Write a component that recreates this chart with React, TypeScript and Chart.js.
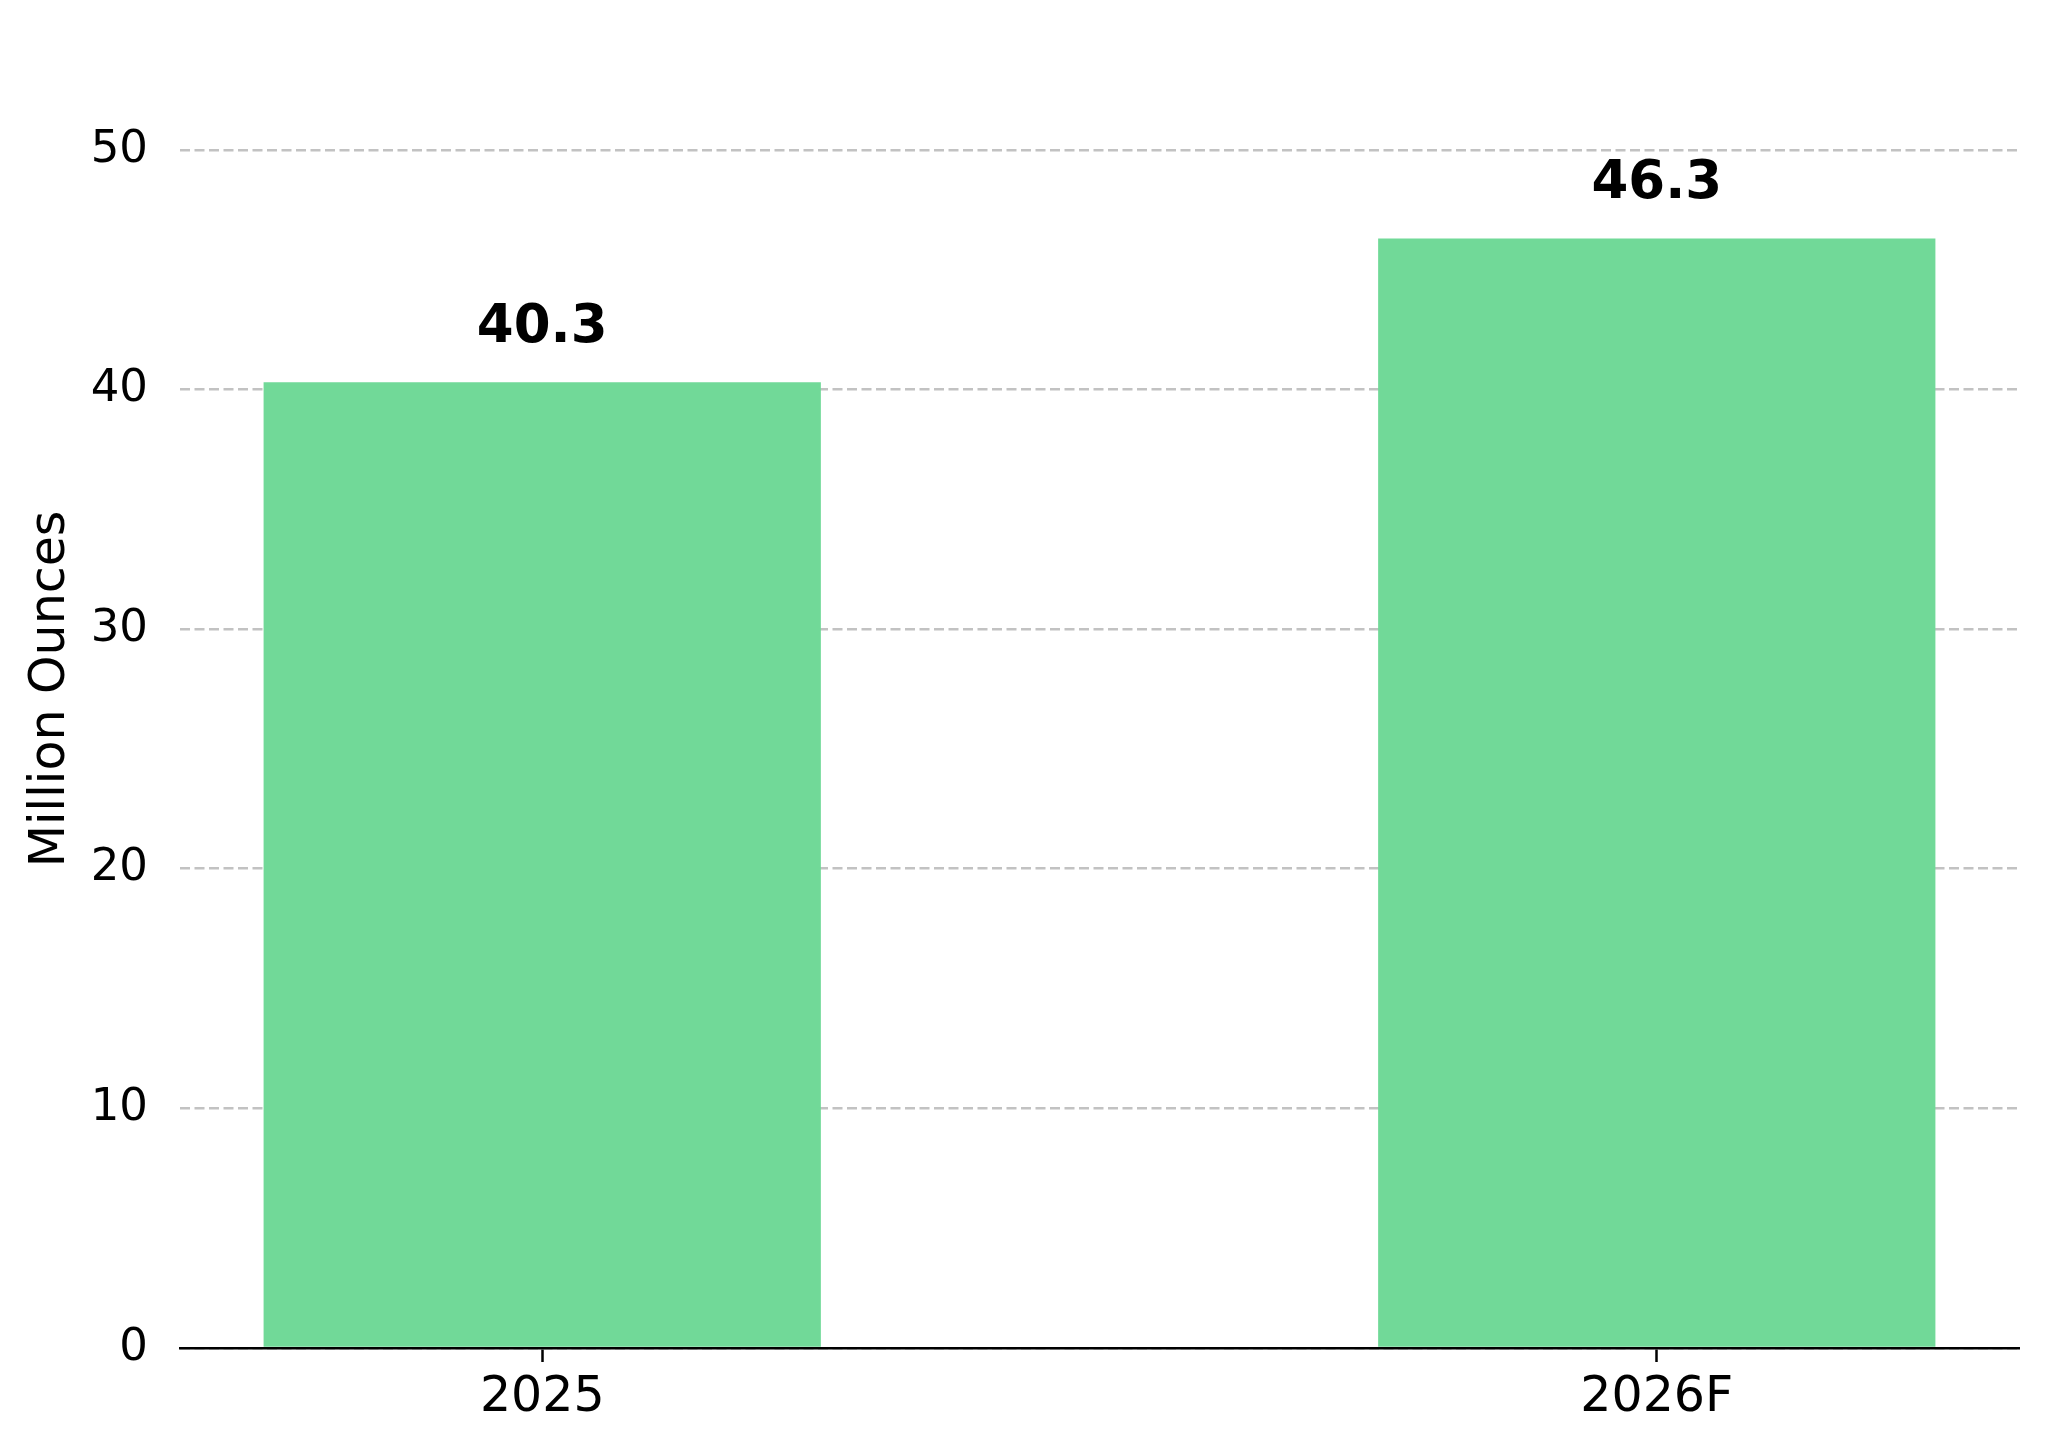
import React, { useEffect, useRef } from 'react';
import { Chart, registerables } from 'chart.js';

Chart.register(...registerables);

const categories = ['2025', '2026F'];
const values = [40.3, 46.3];
const yTicks = [0, 10, 20, 30, 40, 50];

const FONT = "'DejaVu Sans', sans-serif";
const BAR_COLOR = '#71d998';

// rótulos de valor em negrito acima de cada barra
const valueLabels = {
  id: 'valueLabels',
  afterDatasetsDraw(chart: Chart) {
    const ctx = chart.ctx;
    const meta = chart.getDatasetMeta(0);
    ctx.save();
    ctx.font = `bold 53px ${FONT}`;
    ctx.fillStyle = '#000';
    ctx.textAlign = 'center';
    ctx.textBaseline = 'middle';
    meta.data.forEach((bar: any, i: number) => {
      ctx.fillText(values[i].toFixed(1), bar.x, bar.y - 54);
    });
    ctx.restore();
  }
};

const App: React.FC = () => {
  const chartRef = useRef<HTMLCanvasElement>(null);
  const chartInstance = useRef<Chart | null>(null);

  useEffect(() => {
    document.body.style.margin = '0';
    if (!chartRef.current) return;
    if (chartInstance.current) chartInstance.current.destroy();
    const ctx = chartRef.current.getContext('2d');
    if (!ctx) return;

    chartInstance.current = new Chart(ctx, {
      type: 'bar',
      data: {
        datasets: [
          {
            label: 'Million Ounces',
            data: categories.map((_, i) => ({ x: i, y: values[i] })),
            backgroundColor: BAR_COLOR,
            borderWidth: 0,
            categoryPercentage: 1,
            barPercentage: 0.5
          }
        ]
      },
      options: {
        responsive: true,
        maintainAspectRatio: false,
        animation: false,
        devicePixelRatio: 1,
        layout: { padding: { left: 0, top: 30, right: 29, bottom: 0 } },
        plugins: {
          legend: { display: false },
          tooltip: { enabled: false }
        },
        scales: {
          x: {
            type: 'linear',
            min: -0.325,
            max: 1.325,
            offset: false,
            z: 1,
            afterBuildTicks: (scale: any) => {
              scale.ticks = categories.map((_, i) => ({ value: i }));
            },
            afterFit: (scale: any) => {
              scale.height = 106;
              scale.paddingLeft = 0;
              scale.paddingRight = 0;
            },
            border: { display: true, color: '#000', width: 2.5 },
            grid: {
              offset: false,
              drawOnChartArea: false,
              drawTicks: true,
              tickLength: 14,
              tickWidth: 2.5,
              tickColor: '#000'
            },
            ticks: {
              padding: 7,
              color: '#000',
              maxRotation: 0,
              font: { family: FONT, size: 49 },
              callback: (value: any) => categories[Number(value)] ?? ''
            }
          },
          y: {
            type: 'linear',
            min: 0,
            max: 55,
            afterBuildTicks: (scale: any) => {
              scale.ticks = yTicks.map(v => ({ value: v }));
            },
            afterFit: (scale: any) => {
              scale.width = 180;
              scale.paddingTop = 0;
              scale.paddingBottom = 0;
            },
            border: { display: false, dash: [10, 4.5] },
            grid: {
              drawTicks: false,
              color: '#c2c2c2',
              lineWidth: 2.5
            },
            ticks: {
              padding: 32,
              color: '#000',
              font: { family: FONT, size: 45 }
            },
            title: {
              display: true,
              text: 'Million Ounces',
              color: '#000',
              font: { family: FONT, size: 49 },
              padding: { top: 22, bottom: 0 }
            }
          }
        }
      },
      plugins: [valueLabels]
    } as any);

    return () => {
      if (chartInstance.current) {
        chartInstance.current.destroy();
        chartInstance.current = null;
      }
    };
  }, []);

  return (
    <div style={{ width: '2048px', height: '1454px', background: '#fff' }}>
      <canvas ref={chartRef}></canvas>
    </div>
  );
};

export default App;
